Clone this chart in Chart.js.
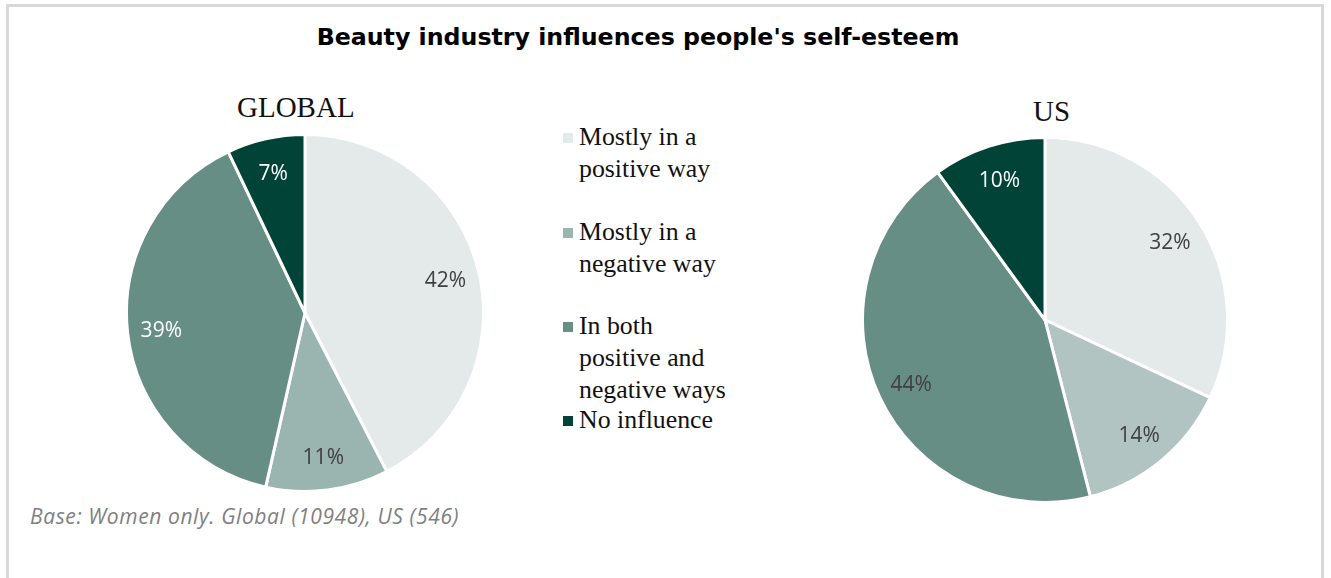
<!DOCTYPE html>
<html>
<head>
<meta charset="utf-8">
<script src="https://cdn.jsdelivr.net/npm/chart.js@4"></script>
<style>
  html, body { margin: 0; padding: 0; background: #fff; }
  body { width: 1331px; height: 578px; position: relative; overflow: hidden; }
  .frame { position: absolute; left: 6px; top: 4px; width: 1318px; height: 600px;
           border: 3px solid #d9d9d9; box-sizing: border-box; }
  .title { position: absolute; left: 0; width: 1276px; top: 23px; text-align: center;
           font: bold 23.7px "DejaVu Sans", sans-serif; color: #000; }
  .pieTitle { position: absolute; font: 29px "Liberation Serif", serif; color: #111; }
  .chartBox { position: absolute; }
  #legend { position: absolute; left: 560px; top: 121px; font: 25.8px "Liberation Serif", serif; color: #111; }
  .item { position: absolute; left: 0; white-space: nowrap; line-height: 32px; }
  .swatch { position: absolute; left: 3px; top: 12px; width: 10px; height: 10px; }
  .text { position: absolute; left: 19px; top: 0; }
  .note { position: absolute; left: 30px; top: 502px; font: italic 21px "Open Sans", sans-serif;
          letter-spacing: 0.6px; color: #7f7f7f; }
</style>
</head>
<body>
<div class="frame"></div>
<div class="title">Beauty industry influences people's self-esteem</div>
<div class="pieTitle" style="left:237px; top:91px;">GLOBAL</div>
<div class="pieTitle" style="left:1033px; top:95px;">US</div>
<div class="chartBox" style="left:125px; top:133px; width:360px; height:360px;"><canvas id="globalChart"></canvas></div>
<div class="chartBox" style="left:861px; top:136px; width:368px; height:368px;"><canvas id="usChart"></canvas></div>
<div id="legend"></div>
<div class="note">Base: Women only. Global (10948), US (546)</div>
<script>
const categories = ["Mostly in a positive way", "Mostly in a negative way", "In both positive and negative ways", "No influence"];
const legendLines = [["Mostly in a", "positive way"], ["Mostly in a", "negative way"], ["In both", "positive and", "negative ways"], ["No influence"]];
const legendTops = [0, 95, 189, 283];
const globalValues = [42, 11, 39, 7];
const usValues = [32, 14, 44, 10];
const globalColors = ["#e3eae9", "#9ab4af", "#678e85", "#024337"];
const usColors = ["#e3eae9", "#b1c4c1", "#678e85", "#024337"];
const globalLabelColors = ["#404040", "#404040", "#ffffff", "#ffffff"];
const usLabelColors = ["#404040", "#404040", "#404040", "#ffffff"];

// draws the "NN%" labels inside each slice
const sliceLabels = {
  id: "sliceLabels",
  afterDatasetsDraw(chart, args, opts) {
    const ctx = chart.ctx;
    const meta = chart.getDatasetMeta(0);
    const data = chart.data.datasets[0].data;
    ctx.save();
    ctx.font = '21px "Open Sans", sans-serif';
    ctx.textAlign = "center";
    ctx.textBaseline = "middle";
    meta.data.forEach((arc, i) => {
      const p = arc.getProps(["x", "y", "startAngle", "endAngle", "outerRadius"], true);
      const mid = (p.startAngle + p.endAngle) / 2;
      const r = p.outerRadius * 0.81;
      ctx.fillStyle = opts.colors[i];
      ctx.fillText(data[i] + "%", p.x + Math.cos(mid) * r, p.y + Math.sin(mid) * r + 2);
    });
    ctx.restore();
  }
};

function buildPie(id, values, colors, labelColors) {
  return new Chart(document.getElementById(id), {
    type: "pie",
    data: {
      labels: categories,
      datasets: [{
        data: values,
        backgroundColor: colors,
        borderColor: "#ffffff",
        borderWidth: 3
      }]
    },
    options: {
      responsive: true,
      maintainAspectRatio: false,
      animation: false,
      layout: { padding: 0 },
      plugins: {
        legend: { display: false },
        tooltip: { enabled: false },
        sliceLabels: { colors: labelColors }
      }
    },
    plugins: [sliceLabels]
  });
}

buildPie("globalChart", globalValues, globalColors, globalLabelColors);
buildPie("usChart", usValues, usColors, usLabelColors);

const legend = document.getElementById("legend");
categories.forEach((c, i) => {
  const item = document.createElement("div");
  item.className = "item";
  item.style.top = legendTops[i] + "px";
  item.innerHTML = '<span class="swatch" style="background:' + globalColors[i] + '"></span>' +
    '<span class="text">' + legendLines[i].join("<br>") + '</span>';
  legend.appendChild(item);
});
</script>
</body>
</html>
